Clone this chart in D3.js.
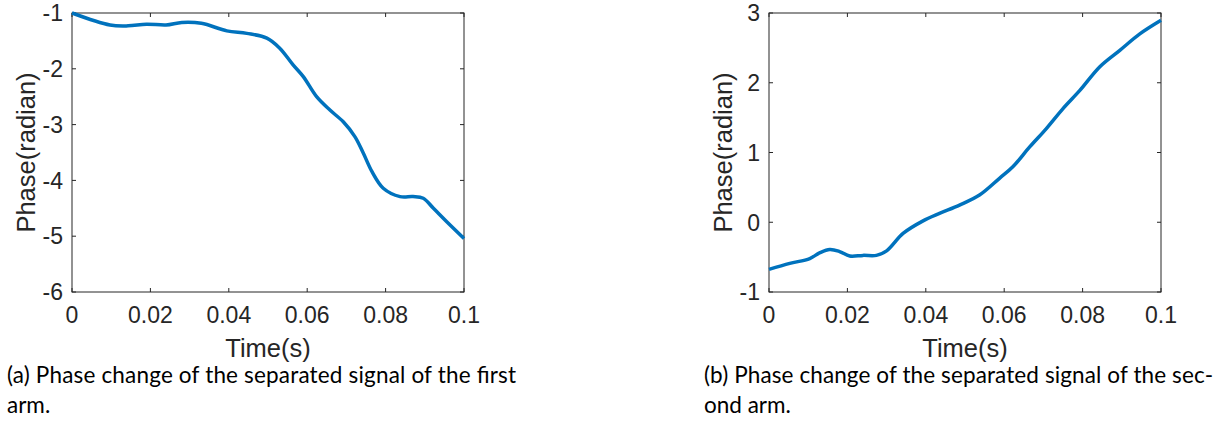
<!DOCTYPE html>
<html>
<head>
<meta charset="utf-8">
<script src="https://cdn.jsdelivr.net/npm/d3@7.9.0/dist/d3.min.js"></script>
<style>
  body { margin: 0; background: #fff; }
  svg { display: block; }
  .tick-label { font-family: "Liberation Sans", Arial, sans-serif; font-size: 23px; fill: #262626; }
  .axis-label { font-family: "Liberation Sans", Arial, sans-serif; font-size: 25.5px; fill: #262626; }
  .caption { font-family: Lato, "Open Sans", sans-serif; font-size: 22.5px; fill: #000; }
</style>
</head>
<body>
<svg id="chart" width="1222" height="431"></svg>
<script>
// ========== Data ==========
const xTicks = [0, 0.02, 0.04, 0.06, 0.08, 0.1];

const timeA = [0, 0.0097, 0.0143, 0.019, 0.024, 0.028, 0.033, 0.0395, 0.0446, 0.0497, 0.053, 0.0564, 0.059, 0.0624, 0.0658, 0.0692, 0.0722, 0.0743, 0.0765, 0.0794, 0.0837, 0.087, 0.0896, 0.0922, 0.0956, 0.1];
const phaseA = [-1.0, -1.215, -1.23, -1.2, -1.215, -1.17, -1.185, -1.32, -1.365, -1.45, -1.63, -1.93, -2.14, -2.5, -2.74, -2.95, -3.22, -3.51, -3.84, -4.14, -4.29, -4.29, -4.32, -4.5, -4.74, -5.04];
const yTicksA = [-6, -5, -4, -3, -2, -1];

const timeB = [0, 0.0053, 0.0104, 0.0129, 0.0155, 0.018, 0.0206, 0.024, 0.0274, 0.03, 0.0342, 0.0393, 0.0435, 0.0486, 0.0537, 0.0588, 0.0622, 0.0665, 0.0707, 0.075, 0.0793, 0.0844, 0.0895, 0.0946, 0.1];
const phaseB = [-0.675, -0.59, -0.52, -0.44, -0.39, -0.42, -0.485, -0.475, -0.475, -0.41, -0.16, 0.02, 0.127, 0.246, 0.39, 0.63, 0.795, 1.08, 1.34, 1.63, 1.89, 2.23, 2.465, 2.70, 2.895];
const yTicksB = [-1, 0, 1, 2, 3];

const captionsA = ['(a) Phase change of the separated signal of the first', 'arm.'];
const captionsB = ['(b) Phase change of the separated signal of the sec-', 'ond arm.'];

const svg = d3.select('#chart');

// ========== Draw one panel ==========
function drawPanel(opts) {
  const { left, right, top, bottom, times, values, yDomain, yTicks, captions, captionX } = opts;

  const x = d3.scaleLinear().domain([0, 0.1]).range([left, right]);
  const y = d3.scaleLinear().domain(yDomain).range([bottom, top]);
  const g = svg.append('g');
  const tickLen = 4;

  // box
  g.append('rect')
    .attr('x', left).attr('y', top)
    .attr('width', right - left).attr('height', bottom - top)
    .attr('fill', 'none').attr('stroke', '#262626').attr('stroke-width', 1);

  // ticks inside on all four sides
  xTicks.forEach((t) => {
    g.append('line').attr('x1', x(t)).attr('x2', x(t)).attr('y1', bottom).attr('y2', bottom - tickLen)
      .attr('stroke', '#262626');
    g.append('line').attr('x1', x(t)).attr('x2', x(t)).attr('y1', top).attr('y2', top + tickLen)
      .attr('stroke', '#262626');
    g.append('text').attr('class', 'tick-label')
      .attr('x', x(t)).attr('y', bottom + 31)
      .attr('text-anchor', 'middle')
      .text(t);
  });

  yTicks.forEach((v) => {
    g.append('line').attr('x1', left).attr('x2', left + tickLen).attr('y1', y(v)).attr('y2', y(v))
      .attr('stroke', '#262626');
    g.append('line').attr('x1', right).attr('x2', right - tickLen).attr('y1', y(v)).attr('y2', y(v))
      .attr('stroke', '#262626');
    g.append('text').attr('class', 'tick-label')
      .attr('x', left - 9).attr('y', y(v)).attr('dy', '0.36em')
      .attr('text-anchor', 'end')
      .text(v);
  });

  // curve
  const line = d3.line()
    .x((d) => x(d[0]))
    .y((d) => y(d[1]))
    .curve(d3.curveCatmullRom.alpha(0.5));

  g.append('path')
    .datum(d3.zip(times, values))
    .attr('d', line)
    .attr('fill', 'none')
    .attr('stroke', '#0072BD')
    .attr('stroke-width', 3.5)
    .attr('stroke-linejoin', 'round');

  // axis labels
  g.append('text').attr('class', 'axis-label')
    .attr('x', (left + right) / 2).attr('y', bottom + 65)
    .attr('text-anchor', 'middle')
    .text('Time(s)');

  g.append('text').attr('class', 'axis-label')
    .attr('transform', `translate(${left - 37},${(top + bottom) / 2}) rotate(-90)`)
    .attr('text-anchor', 'middle')
    .text('Phase(radian)');

  // caption (justified first line)
  g.append('text').attr('class', 'caption')
    .attr('x', captionX).attr('y', 383)
    .attr('textLength', 509).attr('lengthAdjust', 'spacing')
    .text(captions[0]);
  g.append('text').attr('class', 'caption')
    .attr('x', captionX).attr('y', 413)
    .text(captions[1]);
}

drawPanel({
  left: 72, right: 464, top: 13, bottom: 292,
  times: timeA, values: phaseA, yDomain: [-6, -1], yTicks: yTicksA,
  captions: captionsA, captionX: 7
});

drawPanel({
  left: 769, right: 1161, top: 13, bottom: 292,
  times: timeB, values: phaseB, yDomain: [-1, 3], yTicks: yTicksB,
  captions: captionsB, captionX: 704
});
</script>
</body>
</html>
